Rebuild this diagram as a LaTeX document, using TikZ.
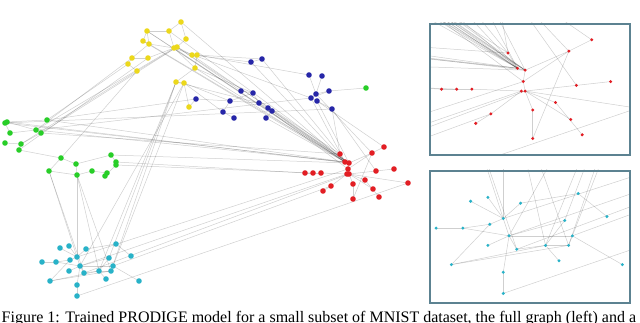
\documentclass[tikz,border=0pt]{standalone}
\usepackage{fontspec}
\setmainfont{Liberation Serif}
\usetikzlibrary{positioning}
\definecolor{dyel}{RGB}{236,216,28}
\definecolor{dblue}{RGB}{38,38,168}
\definecolor{dgreen}{RGB}{40,206,40}
\definecolor{dred}{RGB}{226,30,36}
\definecolor{dteal}{RGB}{40,178,200}
\definecolor{frame}{RGB}{92,130,145}
\tikzset{
  edge/.style  = {draw=black, draw opacity=0.19, line width=0.5pt},
  dot/.style   = {circle, inner sep=0pt, minimum size=5.6pt, draw=none},
  inset/.style = {draw=frame, line width=1.6pt},
  caption/.style = {font=\fontsize{16}{19}\selectfont, anchor=base west, inner sep=0pt},
}
% the whole graph, drawn once for the full view and again for each zoomed box
\newcommand{\digitgraph}{%
  \foreach \n/\x/\y in {y1/147/31,y2/181/22,y3/169/31,y4/186/39,y5/143/41,y6/149/44,y7/174/48,
      y8/177/47,y9/192/55,y10/197/55,y11/132/58,y12/128/64,y13/148/58,y14/137/71,y15/195/68,
      y16/176/82,y17/184/83,y18/189/107,
      b1/251/62,b2/262/59,b3/309/75,b4/322/76,b5/241/91,b6/253/93,b7/316/94,b8/329/91,b9/311/98,
      b10/317/101,b11/196/99,b12/230/101,b13/259/103,b14/268/108,b15/272/111,b16/332/109,
      b17/223/112,b18/234/118,b19/266/118,g0/366/88,
      g1/5/123,g2/7/122,g3/47/120,g4/10/133,g5/36/130,g6/41/133,g7/5/143,g8/21/144,g9/19/150,
      g10/61/158,g11/76/164,g12/111/155,g13/116/162,g14/116/165,g15/49/171,g16/77/175,
      g17/92/171,g18/107/173,g19/105/176,
      r1/384/147,r2/372/153,r3/340/154,r4/345/162,r5/349/163,r6/348/169,r7/349/174,r8/347/174,
      r9/305/173,r10/313/173,r11/321/173,r12/376/171,r13/394/169,r14/408/183,r15/353/184,
      r16/365/180,r17/331/186,r18/323/191,r19/373/189,r20/379/197,r21/353/199,
      t1/116/244,t2/60/248,t3/69/246,t4/86/249,t5/131/256,t6/42/262,t7/56/262,t8/70/260,
      t9/77/257,t10/109/258,t11/80/266,t12/113/266,t13/69/271,t14/84/273,t15/99/271,
      t16/111/271,t17/50/281,t18/106/279,t19/139/281,t20/77/285,t21/77/296}
    \coordinate (\n) at (\x,\y);
  \foreach \a/\b in {y1/y3,y2/y3,y2/y4,y3/y7,y4/y8,y1/y5,y5/y6,y6/y7,y7/y8,y8/y9,y9/y10,
      y10/y15,y15/y16,y16/y17,y17/y18,y11/y12,y11/y13,y13/y7,y12/y14,y14/y8,y6/y11,y15/y7,y1/y6,
      y10/b2,y9/b1,y8/b5,y15/b6,y18/b11,y17/b12,y16/b13,y7/b9,y10/b3,y17/b17,
      y1/r4,y1/r5,y5/r4,y6/r5,y7/r4,y8/r3,y3/r5,y2/r4,y9/r5,y15/r4,
      y11/g5,y12/g3,y14/g8,y7/g5,y8/g6,y14/g10,y13/g9,
      y16/t15,y16/t16,y17/t12,y16/t10,y17/t11,
      g1/g2,g2/g3,g2/g5,g1/g4,g4/g5,g5/g6,g6/g8,g7/g8,g8/g9,g9/g10,g10/g11,g11/g16,g10/g15,
      g15/g16,g16/g17,g17/g18,g18/g19,g19/g14,g13/g14,g12/g13,g11/g12,
      g1/r4,g2/r5,g5/r4,g6/r3,g3/r4,g13/r9,g14/r10,g12/r5,g3/b11,g1/b16,g5/b9,
      g15/t9,g16/t9,g16/t15,g16/t16,g15/t14,
      b1/b2,b3/b7,b4/b7,b7/b8,b7/b9,b9/b10,b10/b16,b8/b9,b5/b6,b6/b13,b13/b14,b14/b15,
      b12/b13,b11/b12,b17/b18,b12/b17,b15/b19,b6/b12,g0/b8,
      b1/r4,b2/r3,b9/r4,b10/r5,b16/r3,b7/r2,b14/r4,b15/r5,b13/r6,b19/r4,b16/r12,b10/r1,
      r3/r4,r4/r5,r5/r6,r6/r7,r7/r8,r9/r10,r10/r11,r11/r8,r1/r2,r2/r6,r12/r13,r12/r7,r14/r7,
      r15/r7,r16/r7,r17/r8,r17/r18,r19/r7,r16/r20,r15/r21,r21/r2,r5/r2,
      t6/t7,t7/t8,t8/t9,t2/t9,t3/t9,t4/t9,t4/t1,t1/t5,t9/t11,t11/t13,t11/t14,t11/t12,t14/t15,
      t15/t16,t17/t15,t17/t16,t17/t8,t20/t21,t20/t11,t18/t15,t19/t12,t10/t15,t7/t11,t12/t16,
      t10/t11,t21/r14,t11/r8,t14/r7,t9/r6,t12/r17}
    \draw[edge] (\a) -- (\b);
  \foreach \n in {y1,y2,y3,y4,y5,y6,y7,y8,y9,y10,y11,y12,y13,y14,y15,y16,y17,y18}
    \node[dot, fill=dyel] (d\n) at (\n) {};
  \foreach \n in {b1,b2,b3,b4,b5,b6,b7,b8,b9,b10,b11,b12,b13,b14,b15,b16,b17,b18,b19}
    \node[dot, fill=dblue] (d\n) at (\n) {};
  \foreach \n in {g0,g1,g2,g3,g4,g5,g6,g7,g8,g9,g10,g11,g12,g13,g14,g15,g16,g17,g18,g19}
    \node[dot, fill=dgreen] (d\n) at (\n) {};
  \foreach \n in {r1,r2,r3,r4,r5,r6,r7,r8,r9,r10,r11,r12,r13,r14,r15,r16,r17,r18,r19,r20,r21}
    \node[dot, fill=dred] (d\n) at (\n) {};
  \foreach \n in {t1,t2,t3,t4,t5,t6,t7,t8,t9,t10,t11,t12,t13,t14,t15,t16,t17,t18,t19,t20,t21}
    \node[dot, fill=dteal] (d\n) at (\n) {};
}

\begin{document}
\begin{tikzpicture}[x=1pt, y=-1pt]
  \path[use as bounding box, clip] (0,0) rectangle (640,323);

  % full graph
  \begin{scope}[name prefix=full-]
    \digitgraph
  \end{scope}

  % zoomed boxes
  \begin{scope}
    \clip (429,23) rectangle (629,154);
    \begin{scope}[name prefix=top-, shift={(-138.1,-239.6)}, scale=1.9, dot/.append style={minimum size=3.3pt}]
      \digitgraph
    \end{scope}
  \end{scope}
  \node[inset, minimum width=200pt, minimum height=131pt, anchor=north west] (topbox) at (429,23) {};

  \begin{scope}
    \clip (429,170) rectangle (629,302);
    \begin{scope}[name prefix=bot-, shift={(355.4,-275)}, scale=1.92, dot/.append style={minimum size=3.3pt}]
      \digitgraph
    \end{scope}
  \end{scope}
  \node[inset, minimum width=200pt, minimum height=132pt, anchor=north west] (botbox) at (429,170) {};

  \node[caption] (cap) at (1.5,322.5) {Figure 1: Trained PRODIGE model for a small subset of MNIST dataset, the full graph (left) and a};
\end{tikzpicture}
\end{document}
